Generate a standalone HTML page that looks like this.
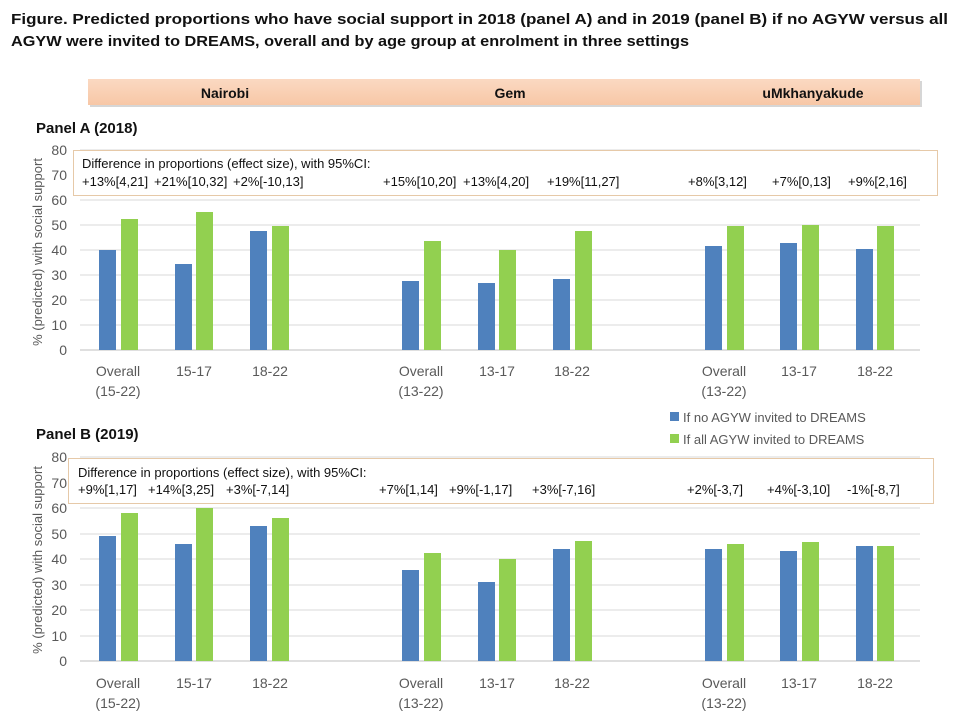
<!DOCTYPE html>
<html><head><meta charset="utf-8"><style>body{margin:0;background:#fff}svg{display:block}</style></head>
<body>
<svg width="960" height="720" xmlns="http://www.w3.org/2000/svg" font-family="Liberation Sans, sans-serif">
<defs><linearGradient id="pg" x1="0" y1="0" x2="0" y2="1"><stop offset="0" stop-color="#fbd9c2"/><stop offset="1" stop-color="#f7c7a6"/></linearGradient></defs>
<text x="11" y="24" font-size="15" font-weight="bold" fill="#111" textLength="937" lengthAdjust="spacingAndGlyphs">Figure. Predicted proportions who have social support in 2018 (panel A) and in 2019 (panel B) if no AGYW versus all</text>
<text x="11" y="46" font-size="15" font-weight="bold" fill="#111" textLength="678" lengthAdjust="spacingAndGlyphs">AGYW were invited to DREAMS, overall and by age group at enrolment in three settings</text>
<rect x="90" y="81" width="832" height="26" fill="#bbb" opacity="0.6"/>
<rect x="88" y="79" width="832" height="26" fill="url(#pg)"/>
<text x="225" y="98" font-size="14" font-weight="bold" text-anchor="middle" fill="#111">Nairobi</text>
<text x="510" y="98" font-size="14" font-weight="bold" text-anchor="middle" fill="#111">Gem</text>
<text x="813" y="98" font-size="14" font-weight="bold" text-anchor="middle" fill="#111">uMkhanyakude</text>
<text x="36" y="133" font-size="15" font-weight="bold" fill="#111">Panel A (2018)</text>
<text x="36" y="439" font-size="15" font-weight="bold" fill="#111">Panel B (2019)</text>
<g id="A">
<g stroke="#d9d9d9" stroke-width="1">
<line x1="80" x2="920" y1="325" y2="325"/><line x1="80" x2="920" y1="300" y2="300"/><line x1="80" x2="920" y1="275" y2="275"/><line x1="80" x2="920" y1="250" y2="250"/><line x1="80" x2="920" y1="225" y2="225"/><line x1="80" x2="920" y1="200" y2="200"/><line x1="80" x2="920" y1="175" y2="175"/><line x1="80" x2="920" y1="150" y2="150"/>
</g>
<line x1="80" x2="920" y1="350" y2="350" stroke="#bfbfbf"/>
<g font-size="14" fill="#595959" text-anchor="end">
<text x="67" y="355">0</text><text x="67" y="330">10</text><text x="67" y="305">20</text><text x="67" y="280">30</text><text x="67" y="255">40</text><text x="67" y="230">50</text><text x="67" y="205">60</text><text x="67" y="180">70</text><text x="67" y="155">80</text>
</g>
<text transform="translate(42,252) rotate(-90)" font-size="13" fill="#595959" text-anchor="middle">% (predicted) with social support</text>
<g fill="#4f81bd">
<rect x="99" y="250" width="17" height="100"/><rect x="175" y="264" width="17" height="86"/><rect x="250" y="231" width="17" height="119"/>
<rect x="402" y="281" width="17" height="69"/><rect x="478" y="283" width="17" height="67"/><rect x="553" y="279" width="17" height="71"/>
<rect x="705" y="246" width="17" height="104"/><rect x="780" y="243" width="17" height="107"/><rect x="856" y="249" width="17" height="101"/>
</g>
<g fill="#92d050">
<rect x="121" y="219" width="17" height="131"/><rect x="196" y="212" width="17" height="138"/><rect x="272" y="226" width="17" height="124"/>
<rect x="424" y="241" width="17" height="109"/><rect x="499" y="250" width="17" height="100"/><rect x="575" y="231" width="17" height="119"/>
<rect x="727" y="226" width="17" height="124"/><rect x="802" y="225" width="17" height="125"/><rect x="877" y="226" width="17" height="124"/>
</g>
<rect x="73.5" y="150.5" width="864" height="45" fill="#fff" stroke="#e6c9a8"/>
<g font-size="13" fill="#111">
<text x="82" y="168">Difference in proportions (effect size), with 95%CI:</text>
<text x="82" y="186">+13%[4,21]</text><text x="154" y="186">+21%[10,32]</text><text x="233" y="186">+2%[-10,13]</text>
<text x="383" y="186">+15%[10,20]</text><text x="463" y="186">+13%[4,20]</text><text x="547" y="186">+19%[11,27]</text>
<text x="688" y="186">+8%[3,12]</text><text x="772" y="186">+7%[0,13]</text><text x="848" y="186">+9%[2,16]</text>
</g>
<g font-size="14" fill="#595959" text-anchor="middle">
<text x="118" y="376">Overall</text><text x="118" y="396">(15-22)</text><text x="194" y="376">15-17</text><text x="270" y="376">18-22</text>
<text x="421" y="376">Overall</text><text x="421" y="396">(13-22)</text><text x="497" y="376">13-17</text><text x="572" y="376">18-22</text>
<text x="724" y="376">Overall</text><text x="724" y="396">(13-22)</text><text x="799" y="376">13-17</text><text x="875" y="376">18-22</text>
</g>
</g>
<rect x="670" y="412" width="9" height="9" fill="#4f81bd"/><text x="683" y="422" font-size="13" fill="#595959">If no AGYW invited to DREAMS</text>
<rect x="670" y="434" width="9" height="9" fill="#92d050"/><text x="683" y="444" font-size="13" fill="#595959">If all AGYW invited to DREAMS</text>
<g>
<g stroke="#d9d9d9" stroke-width="1">
<line x1="80" x2="920" y1="636" y2="636"/><line x1="80" x2="920" y1="610" y2="610"/><line x1="80" x2="920" y1="585" y2="585"/><line x1="80" x2="920" y1="559" y2="559"/><line x1="80" x2="920" y1="534" y2="534"/><line x1="80" x2="920" y1="508" y2="508"/><line x1="80" x2="920" y1="483" y2="483"/><line x1="80" x2="920" y1="457" y2="457"/>
</g>
<line x1="80" x2="920" y1="661" y2="661" stroke="#bfbfbf"/>
<g font-size="14" fill="#595959" text-anchor="end">
<text x="67" y="666">0</text><text x="67" y="641">10</text><text x="67" y="615">20</text><text x="67" y="590">30</text><text x="67" y="564">40</text><text x="67" y="539">50</text><text x="67" y="513">60</text><text x="67" y="488">70</text><text x="67" y="462">80</text>
</g>
<text transform="translate(42,560) rotate(-90)" font-size="13" fill="#595959" text-anchor="middle">% (predicted) with social support</text>
<g fill="#4f81bd">
<rect x="99" y="536" width="17" height="125"/><rect x="175" y="544" width="17" height="117"/><rect x="250" y="526" width="17" height="135"/>
<rect x="402" y="570" width="17" height="91"/><rect x="478" y="582" width="17" height="79"/><rect x="553" y="549" width="17" height="112"/>
<rect x="705" y="549" width="17" height="112"/><rect x="780" y="551" width="17" height="110"/><rect x="856" y="546" width="17" height="115"/>
</g>
<g fill="#92d050">
<rect x="121" y="513" width="17" height="148"/><rect x="196" y="508" width="17" height="153"/><rect x="272" y="518" width="17" height="143"/>
<rect x="424" y="553" width="17" height="108"/><rect x="499" y="559" width="17" height="102"/><rect x="575" y="541" width="17" height="120"/>
<rect x="727" y="544" width="17" height="117"/><rect x="802" y="542" width="17" height="119"/><rect x="877" y="546" width="17" height="115"/>
</g>
<rect x="68.5" y="458.5" width="865" height="45" fill="#fff" stroke="#e6c9a8"/>
<g font-size="13" fill="#111">
<text x="78" y="477">Difference in proportions (effect size), with 95%CI:</text>
<text x="78" y="494">+9%[1,17]</text><text x="148" y="494">+14%[3,25]</text><text x="226" y="494">+3%[-7,14]</text>
<text x="379" y="494">+7%[1,14]</text><text x="449" y="494">+9%[-1,17]</text><text x="532" y="494">+3%[-7,16]</text>
<text x="687" y="494">+2%[-3,7]</text><text x="767" y="494">+4%[-3,10]</text><text x="847" y="494">-1%[-8,7]</text>
</g>
<g font-size="14" fill="#595959" text-anchor="middle">
<text x="118" y="688">Overall</text><text x="118" y="708">(15-22)</text><text x="194" y="688">15-17</text><text x="270" y="688">18-22</text>
<text x="421" y="688">Overall</text><text x="421" y="708">(13-22)</text><text x="497" y="688">13-17</text><text x="572" y="688">18-22</text>
<text x="724" y="688">Overall</text><text x="724" y="708">(13-22)</text><text x="799" y="688">13-17</text><text x="875" y="688">18-22</text>
</g>
</g>
</svg>
</body></html>
